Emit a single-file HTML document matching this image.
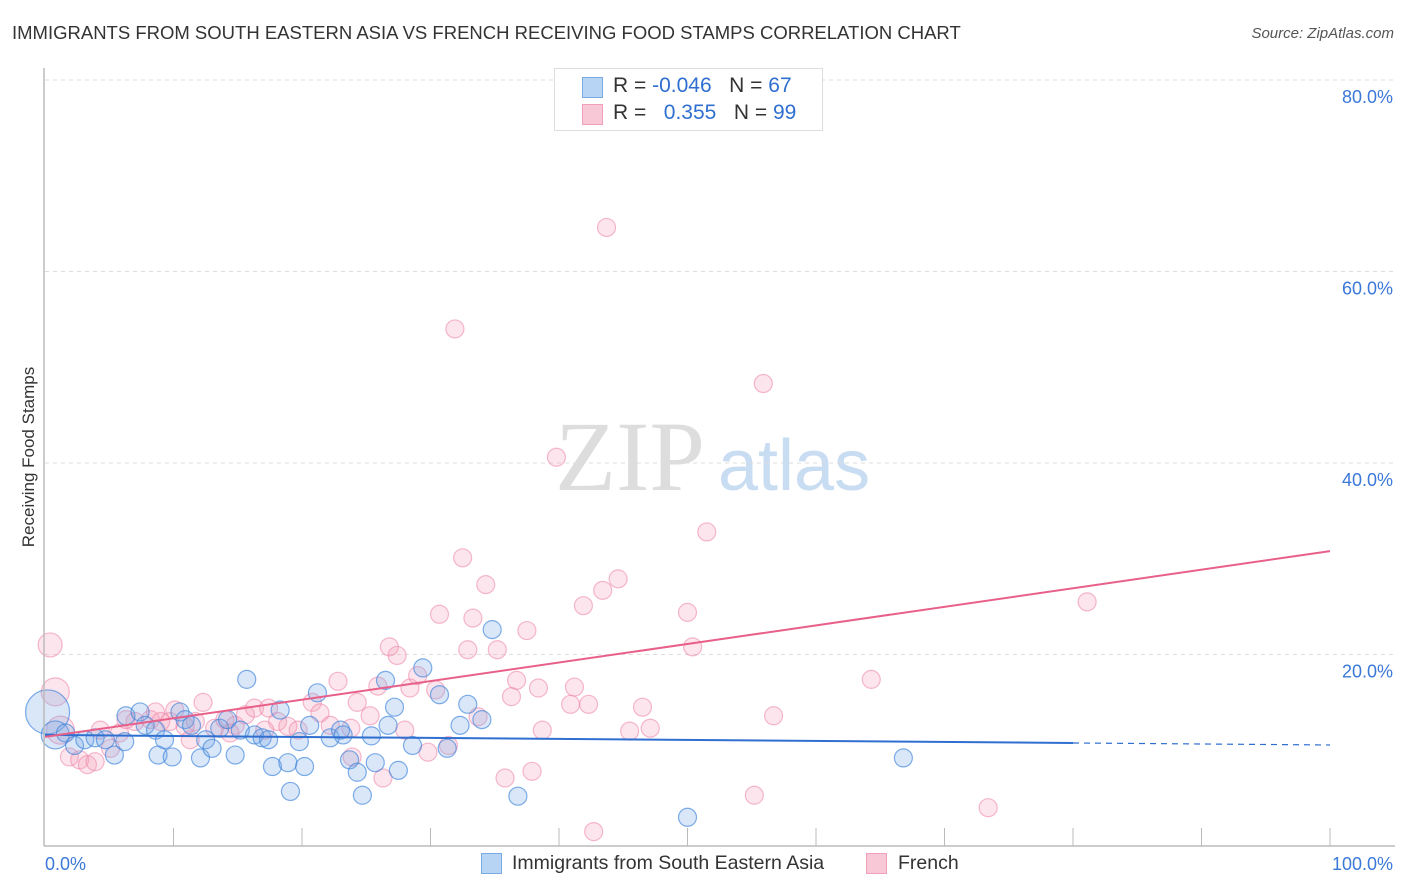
<!DOCTYPE html>
<html><head><meta charset="utf-8"><style>
body{margin:0;width:1406px;height:892px;background:#fff;font-family:"Liberation Sans",sans-serif;overflow:hidden;position:relative}
.t{position:absolute;white-space:nowrap}
</style></head><body>
<div class="t" style="left:12px;top:22px;font-size:18.5px;color:#333">IMMIGRANTS FROM SOUTH EASTERN ASIA VS FRENCH RECEIVING FOOD STAMPS CORRELATION CHART</div>
<div class="t" style="right:12px;top:25px;font-size:15px;color:#555;font-style:italic">Source: ZipAtlas.com</div>
<svg id="chart" width="1406" height="892" style="position:absolute;left:0;top:0">
<text x="555" y="490" font-size="100" fill="#ddd" font-family="Liberation Serif">ZIP</text>
<text x="718" y="490" font-size="72" fill="#c8dcf2" font-family="Liberation Sans">atlas</text>
<g id="grid"></g><g id="pts"></g><g id="lines"></g><g id="axes"></g>
<text transform="translate(34,457) rotate(-90)" text-anchor="middle" font-size="17" fill="#333">Receiving Food Stamps</text>
</svg>
<div style="position:absolute;left:554px;top:68px;width:267px;height:61px;border:1px solid #ddd;background:#fff;font-size:21px;color:#333">
<div style="position:absolute;left:27px;top:8px;width:19px;height:19px;background:#b8d4f5;border:1px solid #7aaae6"></div>
<div class="t" style="left:58px;top:5px">R = <span style="color:#2f6fd0">-0.046</span>&nbsp;&nbsp;&nbsp;N = <span style="color:#2f6fd0">67</span></div>
<div style="position:absolute;left:27px;top:35px;width:19px;height:19px;background:#f9c8d6;border:1px solid #f0a0b8"></div>
<div class="t" style="left:58px;top:32px">R = &nbsp;&nbsp;<span style="color:#2f6fd0">0.355</span>&nbsp;&nbsp;&nbsp;N = <span style="color:#2f6fd0">99</span></div>
</div>
<div style="position:absolute;left:481px;top:853px;width:19px;height:19px;background:#b8d4f5;border:1px solid #7aaae6"></div>
<div class="t" style="left:512px;top:852px;font-size:19.5px;color:#333">Immigrants from South Eastern Asia</div>
<div style="position:absolute;left:866px;top:853px;width:19px;height:19px;background:#f9c8d6;border:1px solid #f0a0b8"></div>
<div class="t" style="left:898px;top:852px;font-size:19.5px;color:#333">French</div>
<script>
const blueX=[0.2,0.8,1.6,2.3,3.1,3.9,4.7,5.4,6.2,6.3,7.4,7.8,8.6,8.8,9.3,9.9,10.5,10.9,11.4,12.1,12.5,13.0,13.6,14.2,14.8,15.2,15.7,16.3,16.9,17.4,17.7,18.3,18.9,19.1,19.8,20.2,20.6,21.2,22.2,23.0,23.2,23.7,24.3,24.7,25.4,25.7,26.5,26.7,27.2,27.5,28.6,29.4,30.7,31.3,32.3,32.9,34.0,34.8,36.8,50.0,66.8];
const blueY=[14.0,11.6,11.8,10.5,11.1,11.3,11.1,9.5,10.9,13.6,14.0,12.6,12.1,9.5,11.1,9.3,14.0,13.2,12.6,9.2,11.1,10.2,12.3,13.2,9.5,12.1,17.4,11.6,11.3,11.1,8.3,14.2,8.7,5.7,10.9,8.3,12.6,16.0,11.3,12.1,11.6,9.0,7.7,5.3,11.5,8.7,17.3,12.6,14.5,7.9,10.5,18.6,15.8,10.2,12.6,14.8,13.2,22.6,5.2,3.0,9.2];
const pinkX=[0.4,0.8,1.2,1.9,2.7,3.3,3.9,5.1,5.8,7.0,8.2,8.6,9.7,10.1,11.3,11.7,12.3,13.2,14.0,14.8,15.6,16.3,17.4,18.1,18.9,19.7,20.8,21.4,22.2,22.8,23.9,24.3,25.3,25.9,26.3,26.8,27.4,28.0,28.4,29.0,29.8,30.4,30.7,31.4,31.9,32.5,32.9,33.3,33.7,34.3,35.2,35.8,36.3,36.7,37.5,37.9,38.4,38.7,39.8,40.9,41.2,41.9,42.3,42.7,43.4,43.7,44.6,45.5,46.5,47.1,50.0,50.4,51.5,55.2,55.9,56.7,64.3,73.4,81.1,4.3,6.3,9.0,10.9,14.4,17.1,23.8];
const pinkY=[21.0,16.1,12.1,9.3,9.0,8.5,8.8,10.2,11.8,13.0,13.2,14.0,13.0,14.2,11.1,13.0,15.0,12.3,13.2,12.6,13.7,14.4,14.4,13.0,12.5,12.1,15.0,13.9,12.6,17.2,9.3,15.0,13.6,16.7,7.1,20.8,19.9,12.1,16.5,17.8,9.8,16.3,24.2,10.5,54.0,30.1,20.5,23.8,13.5,27.3,20.5,7.1,15.6,17.3,22.5,7.8,16.5,12.1,40.6,14.8,16.6,25.1,14.8,1.5,26.7,64.6,27.9,12.0,14.5,12.3,24.4,20.8,32.8,5.3,48.3,13.6,17.4,4.0,25.5,12.1,13.2,13.0,12.5,11.8,12.1,12.3];
const blueTrend=[11.6,-0.0105];
const pinkTrend=[11.4,0.194];
const yTicks=[20,40,60,80];
const x0=45,x1=1330,yb=846,ppy=9.575;
const sx=v=>x0+(x1-x0)*v/100, sy=v=>yb-v*ppy;
const NS="http://www.w3.org/2000/svg";
function mk(tag,attrs,parent){const e=document.createElementNS(NS,tag);for(const k in attrs)e.setAttribute(k,attrs[k]);document.getElementById(parent).appendChild(e);return e;}
yTicks.forEach(t=>{
 const l=mk('line',{x1:45,x2:1395,y1:sy(t),y2:sy(t),stroke:'#ddd','stroke-dasharray':'4,4'},'grid');
 
 
 const tx=mk('text',{x:1393,y:sy(t)+23,'text-anchor':'end','font-size':18,fill:'#3b78d8'},'grid');
 tx.textContent=t.toFixed(1)+'%';
 
 
});
const ax=mk('line',{x1:44,x2:44,y1:68,y2:846,stroke:'#bbb','stroke-width':1.5},'axes');


const bx=mk('line',{x1:44,x2:1395,y1:846,y2:846,stroke:'#bbb','stroke-width':1.5},'axes');


for(let i=1;i<=10;i++){const t=mk('line',{x1:sx(i*10),x2:sx(i*10),y1:828,y2:846,stroke:'#bbb'},'axes');
 
 }
[[0,'0.0%','start',45],[100,'100.0%','end',1393]].forEach(([v,s,a,x])=>{const t=mk('text',{x:x,y:870,'text-anchor':a,'font-size':18,fill:'#3b78d8'},'axes');t.textContent=s;
 
 });
pinkX.forEach((x,i)=>{const r=i==0?12:(i<3?14:9);const c=mk('circle',{cx:sx(x),cy:sy(pinkY[i]),r:r,fill:'rgba(244,160,188,0.28)',stroke:'rgba(236,130,165,0.55)','stroke-width':1.2},'pts');
 
 });
blueX.forEach((x,i)=>{const r=i==0?22:(i==1?14:9);const c=mk('circle',{cx:sx(x),cy:sy(blueY[i]),r:r,fill:'rgba(120,170,230,0.28)',stroke:'rgba(60,130,220,0.65)','stroke-width':1.2},'pts');
 
 });
const [ba,bb]=blueTrend;
const l1=mk('line',{x1:sx(0),y1:sy(ba),x2:sx(80),y2:sy(ba+bb*80),stroke:'#2f6fd0','stroke-width':2},'lines');


const l2=mk('line',{x1:sx(80),y1:sy(ba+bb*80),x2:sx(100),y2:sy(ba+bb*100),stroke:'#2f6fd0','stroke-width':1.2,'stroke-dasharray':'6,5'},'lines');


const [pa,pb]=pinkTrend;
const l3=mk('line',{x1:sx(0),y1:sy(pa),x2:sx(100),y2:sy(pa+pb*100),stroke:'#e8608a','stroke-width':2},'lines');


</script>
</body></html>
